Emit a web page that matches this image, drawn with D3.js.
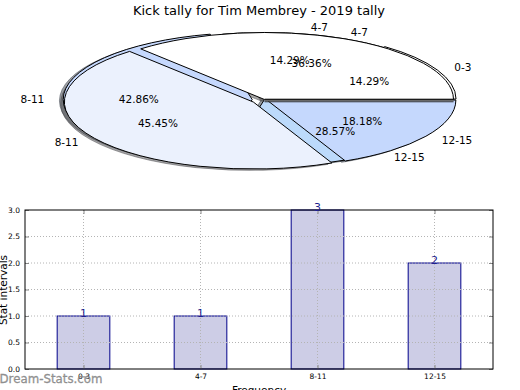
<!DOCTYPE html>
<html><head><meta charset="utf-8">
<script src="https://cdn.jsdelivr.net/npm/d3@7"></script>
<style>
body{margin:0;background:#fff;}
svg{display:block;font-family:"DejaVu Sans",sans-serif;}
</style></head><body>
<svg id="c" width="520" height="390"></svg>
<script>
// ---- data ----
const title = "Kick tally for Tim Membrey - 2019 tally";
const pie1Labels = ["0-3", "4-7", "8-11", "12-15"];
const pie1Values = [1, 1, 3, 2];
const pie2Labels = ["4-7", "8-11", "12-15"];
const pie2Values = [4, 5, 2];
const barCategories = ["0-3", "4-7", "8-11", "12-15"];
const barValues = [1, 1, 3, 2];
const yTicks = [0, 0.5, 1, 1.5, 2, 2.5, 3];
const yLabel = "Stat intervals";
const xLabel = "Frequency";
const watermark = "Dream-Stats.com";

// ---- styles / layout ----
const pieColors = ["#ffffff", "#ebf1fd", "#c5d8fd", "#bcdafb"];
const explode1 = [0.015, 0, 0.065, 0];
const explode2 = [0, 0.07, 0.015];
const P = {cx: 264.5, cy: 99.5, rx: 189, ry: 67};

const svg = d3.select("#c");

svg.append("text").attr("x", 259).attr("y", 14.5).attr("text-anchor", "middle")
  .attr("font-size", 13).attr("fill", "#000").text(title);

// pie helper
const R = 100;
const arc = d3.arc().innerRadius(0).outerRadius(R);
function pieData(values, labels, explode) {
  const pie = d3.pie().sort(null).value(d => d.v)
    .startAngle(Math.PI / 2).endAngle(Math.PI / 2 - 2 * Math.PI);
  const total = d3.sum(values);
  return pie(values.map((v, i) => ({v, label: labels[i], ex: explode[i], pct: (v / total * 100).toFixed(2) + "%", color: pieColors[i]})));
}
const p1 = pieData(pie1Values, pie1Labels, explode1);
const p2 = pieData(pie2Values, pie2Labels, explode2);

function mid(d) { return (d.startAngle + d.endAngle) / 2; }
function offs(d, r, a) { // unit -> px offset from center
  const m = a === undefined ? mid(d) : a;
  return [Math.sin(m) * r * P.rx, -Math.cos(m) * r * P.ry];
}
function wedgeTransform(d, dx, dy) {
  const o = offs(d, d.data.ex);
  return `translate(${P.cx + o[0] + dx},${P.cy + o[1] + dy}) scale(${P.rx / R},${P.ry / R})`;
}
const pieG = svg.append("g");
// shadows
[p1, p2].forEach(pd => {
  pieG.selectAll(null).data(pd).enter().append("path")
    .attr("transform", d => wedgeTransform(d, -0.02 * P.rx, 0.02 * P.ry))
    .attr("d", arc)
    .attr("fill", d => { const c = d3.rgb(d.data.color); return d3.rgb(c.r * 0.3, c.g * 0.3, c.b * 0.3); })
    .attr("fill-opacity", 0.5)
    .attr("stroke", d => { const c = d3.rgb(d.data.color); return d3.rgb(c.r * 0.3, c.g * 0.3, c.b * 0.3); })
    .attr("stroke-opacity", 0.5)
    .attr("vector-effect", "non-scaling-stroke");
});
[p1, p2].forEach(pd => {
  pieG.selectAll(null).data(pd).enter().append("path")
    .attr("transform", d => wedgeTransform(d, 0, 0))
    .attr("d", arc)
    .attr("fill", d => d.data.color)
    .attr("stroke", "#000").attr("stroke-width", 1)
    .attr("stroke-linejoin", "round")
    .attr("vector-effect", "non-scaling-stroke");
});
// shaded seam along the start edge of the second pie (shadow showing between wedges)
{
  const d = p2[0];
  const o = offs(d, d.data.ex);
  const e = offs(d, 1, d.startAngle);
  const x0 = P.cx + o[0], y0 = P.cy + o[1];
  pieG.append("line").attr("x1", x0).attr("y1", y0 + 1).attr("x2", x0 + e[0]).attr("y2", y0 + e[1] + 1)
    .attr("stroke", "#6a6a6a").attr("stroke-width", 2.2);
  pieG.append("line").attr("x1", x0).attr("y1", y0 - 0.3).attr("x2", x0 + e[0]).attr("y2", y0 + e[1] - 0.3)
    .attr("stroke", "#111").attr("stroke-width", 1);
  pieG.append("line").attr("x1", x0).attr("y1", y0 + 2.3).attr("x2", x0 + e[0]).attr("y2", y0 + e[1] + 2.3)
    .attr("stroke", "#222").attr("stroke-width", 0.8);
}
// labels
[p1, p2].forEach(pd => {
  pd.forEach(d => {
    const e = offs(d, d.data.ex);
    const l = offs(d, 1.1);
    const pc = offs(d, 0.6);
    const m = mid(d);
    svg.append("text")
      .attr("x", P.cx + e[0] + l[0]).attr("y", P.cy + e[1] + l[1])
      .attr("dy", "0.35em").attr("font-size", 10.5)
      .attr("text-anchor", Math.sin(m) > 0 ? "start" : "end")
      .text(d.data.label);
    svg.append("text")
      .attr("x", P.cx + e[0] + pc[0]).attr("y", P.cy + e[1] + pc[1])
      .attr("dy", "0.35em").attr("font-size", 10.5)
      .attr("text-anchor", "middle")
      .text(d.data.pct);
  });
});

// ---- bar chart ----
const B = {l: 25, r: 493, t: 210, b: 369};
const x = d3.scaleLinear().domain([-0.5, barCategories.length - 0.5]).range([B.l, B.r]);
const y = d3.scaleLinear().domain([0, 3]).range([B.b, B.t]);
const bw = 0.45;
const barG = svg.append("g");
barG.selectAll("rect").data(barValues).enter().append("rect")
  .attr("x", (v, i) => x(i - bw / 2)).attr("width", x(bw) - x(0))
  .attr("y", v => y(v)).attr("height", v => y(0) - y(v))
  .attr("fill", "#cdcde6").attr("stroke", "#00008b").attr("stroke-width", 1);

// grid
const gridG = svg.append("g").attr("stroke", "#b4b4b4").attr("stroke-dasharray", "1,2").attr("stroke-width", 1);
gridG.selectAll(null).data(yTicks.slice(1, -1)).enter().append("line")
  .attr("x1", B.l).attr("x2", B.r).attr("y1", d => y(d)).attr("y2", d => y(d));
gridG.selectAll(null).data(barCategories).enter().append("line")
  .attr("x1", (d, i) => x(i)).attr("x2", (d, i) => x(i)).attr("y1", B.t).attr("y2", B.b);

// axes
const yAxis = d3.axisLeft(y).tickValues(yTicks).tickFormat(d3.format(".1f")).tickSizeInner(-4).tickSizeOuter(0).tickPadding(5);
const yg = svg.append("g").attr("transform", `translate(${B.l},0)`).call(yAxis);
yg.select(".domain").remove();
yg.selectAll("text").attr("font-size", 7.5).attr("font-family", "DejaVu Sans");
yg.selectAll("line").attr("stroke", "#888");
const yAxisR = d3.axisRight(y).tickValues(yTicks).tickFormat("").tickSizeInner(-4).tickSizeOuter(0);
const yr = svg.append("g").attr("transform", `translate(${B.r},0)`).call(yAxisR);
yr.select(".domain").remove(); yr.selectAll("line").attr("stroke", "#888");
const xAxis = d3.axisBottom(x).tickValues(d3.range(barCategories.length)).tickFormat(i => barCategories[i]).tickSizeInner(-4).tickSizeOuter(0).tickPadding(5);
const xg = svg.append("g").attr("transform", `translate(0,${B.b})`).call(xAxis);
xg.select(".domain").remove();
xg.selectAll("text").attr("font-size", 7.5).attr("font-family", "DejaVu Sans");
xg.selectAll("line").attr("stroke", "#888");
const xAxisT = d3.axisTop(x).tickValues(d3.range(barCategories.length)).tickFormat("").tickSizeInner(-4).tickSizeOuter(0);
const xt = svg.append("g").attr("transform", `translate(0,${B.t})`).call(xAxisT);
xt.select(".domain").remove(); xt.selectAll("line").attr("stroke", "#888");

svg.append("rect").attr("x", B.l).attr("y", B.t).attr("width", B.r - B.l).attr("height", B.b - B.t)
  .attr("fill", "none").attr("stroke", "#000").attr("stroke-width", 1);

// value labels
svg.selectAll(null).data(barValues).enter().append("text")
  .attr("x", (v, i) => x(i)).attr("y", v => y(v) + 1)
  .attr("text-anchor", "middle").attr("font-size", 11).attr("fill", "#1f1f8f")
  .text(v => v);

// axis labels
svg.append("text").attr("transform", "translate(6.5,290) rotate(-90)").attr("text-anchor", "middle")
  .attr("font-size", 10.5).text(yLabel);
svg.append("text").attr("x", 259).attr("y", 394).attr("text-anchor", "middle")
  .attr("font-size", 10.5).text(xLabel);
svg.append("text").attr("x", -0.5).attr("y", 383).attr("font-size", 11.8)
  .attr("fill", "#8a8a8a").attr("fill-opacity", 0.92).attr("stroke", "#8a8a8a").attr("stroke-width", 0.3)
  .text(watermark);
</script>
</body></html>
